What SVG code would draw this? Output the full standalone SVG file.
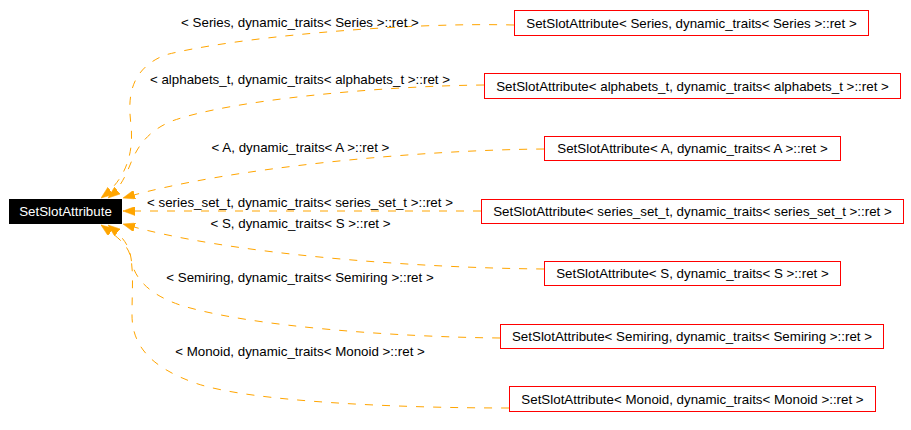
<svg xmlns="http://www.w3.org/2000/svg" width="911" height="430" viewBox="0 0 911 430">
<defs>
<style>
.box{fill:#ffffff;stroke:#ff0000;stroke-width:1}
.main{fill:#000000;stroke:#000000;stroke-width:1}
.t{font-family:"Liberation Sans",Arial,Helvetica,sans-serif;font-size:13.33px;fill:#000000;text-anchor:middle}
.tw{fill:#ffffff}
.e{fill:none;stroke:#ffa500;stroke-width:1;stroke-dasharray:8,9;marker-end:url(#arr)}
</style>
<marker id="arr" viewBox="0 0 12 9" refX="12" refY="4.5" markerWidth="12" markerHeight="9" markerUnits="userSpaceOnUse" orient="auto">
<path d="M0,0 L12,4.5 L0,9 z" fill="#ffa500" stroke="#ffa500" stroke-width="0.5"/>
</marker>
</defs>
<rect width="911" height="430" fill="#ffffff"/>

<g id="connectors">
<path class="e" d="M514,25 C400,22 230,38 165,55 C128,70 128,100 131,125 C134,155 125,180 101,198"/>
<path class="e" d="M484,85 C380,86 230,100 172,121 C145,132 136,150 130,165 C124,180 118,190 108,198"/>
<path class="e" d="M544,149 C420,150 230,167 123,198"/>
<path class="e" d="M481,211 L123,211"/>
<path class="e" d="M544,269 C420,268 230,255 123,224"/>
<path class="e" d="M500,338 C400,337 250,327 180,305 C145,293 133,275 131,258 C129,242 118,233 108,225"/>
<path class="e" d="M509,408 C400,408 250,402 195,383 C150,367 132,345 132,315 C132,290 134,270 130,255 C127,243 112,233 101,225"/>
<text class="t" x="300" y="27">&lt; Series, dynamic_traits&lt; Series &gt;::ret &gt;</text>
<text class="t" x="300" y="84">&lt; alphabets_t, dynamic_traits&lt; alphabets_t &gt;::ret &gt;</text>
<text class="t" x="300.5" y="152">&lt; A, dynamic_traits&lt; A &gt;::ret &gt;</text>
<text class="t" x="300" y="207">&lt; series_set_t, dynamic_traits&lt; series_set_t &gt;::ret &gt;</text>
<text class="t" x="300.5" y="228">&lt; S, dynamic_traits&lt; S &gt;::ret &gt;</text>
<text class="t" x="300" y="282">&lt; Semiring, dynamic_traits&lt; Semiring &gt;::ret &gt;</text>
<text class="t" x="300" y="356">&lt; Monoid, dynamic_traits&lt; Monoid &gt;::ret &gt;</text>
</g>

<g id="node-main">
<rect class="main" x="9.5" y="199.5" width="112" height="24"/>
<text class="t tw" x="65.5" y="216">SetSlotAttribute</text>
</g>
<g id="node-series">
<rect class="box" x="514.5" y="10.5" width="354" height="25"/>
<text class="t" x="691.5" y="28">SetSlotAttribute&lt; Series, dynamic_traits&lt; Series &gt;::ret &gt;</text>
</g>
<g id="node-alphabets">
<rect class="box" x="484.5" y="73.5" width="416" height="25"/>
<text class="t" x="692.5" y="91">SetSlotAttribute&lt; alphabets_t, dynamic_traits&lt; alphabets_t &gt;::ret &gt;</text>
</g>
<g id="node-a">
<rect class="box" x="544.5" y="136.5" width="296" height="24"/>
<text class="t" x="692.5" y="153">SetSlotAttribute&lt; A, dynamic_traits&lt; A &gt;::ret &gt;</text>
</g>
<g id="node-series-set">
<rect class="box" x="481.5" y="199.5" width="422" height="24"/>
<text class="t" x="692.5" y="216">SetSlotAttribute&lt; series_set_t, dynamic_traits&lt; series_set_t &gt;::ret &gt;</text>
</g>
<g id="node-s">
<rect class="box" x="544.5" y="261.5" width="296" height="24"/>
<text class="t" x="692.5" y="278">SetSlotAttribute&lt; S, dynamic_traits&lt; S &gt;::ret &gt;</text>
</g>
<g id="node-semiring">
<rect class="box" x="500.5" y="324.5" width="383" height="24"/>
<text class="t" x="692" y="341">SetSlotAttribute&lt; Semiring, dynamic_traits&lt; Semiring &gt;::ret &gt;</text>
</g>
<g id="node-monoid">
<rect class="box" x="509.5" y="386.5" width="366" height="25"/>
<text class="t" x="692.5" y="404">SetSlotAttribute&lt; Monoid, dynamic_traits&lt; Monoid &gt;::ret &gt;</text>
</g>
</svg>
